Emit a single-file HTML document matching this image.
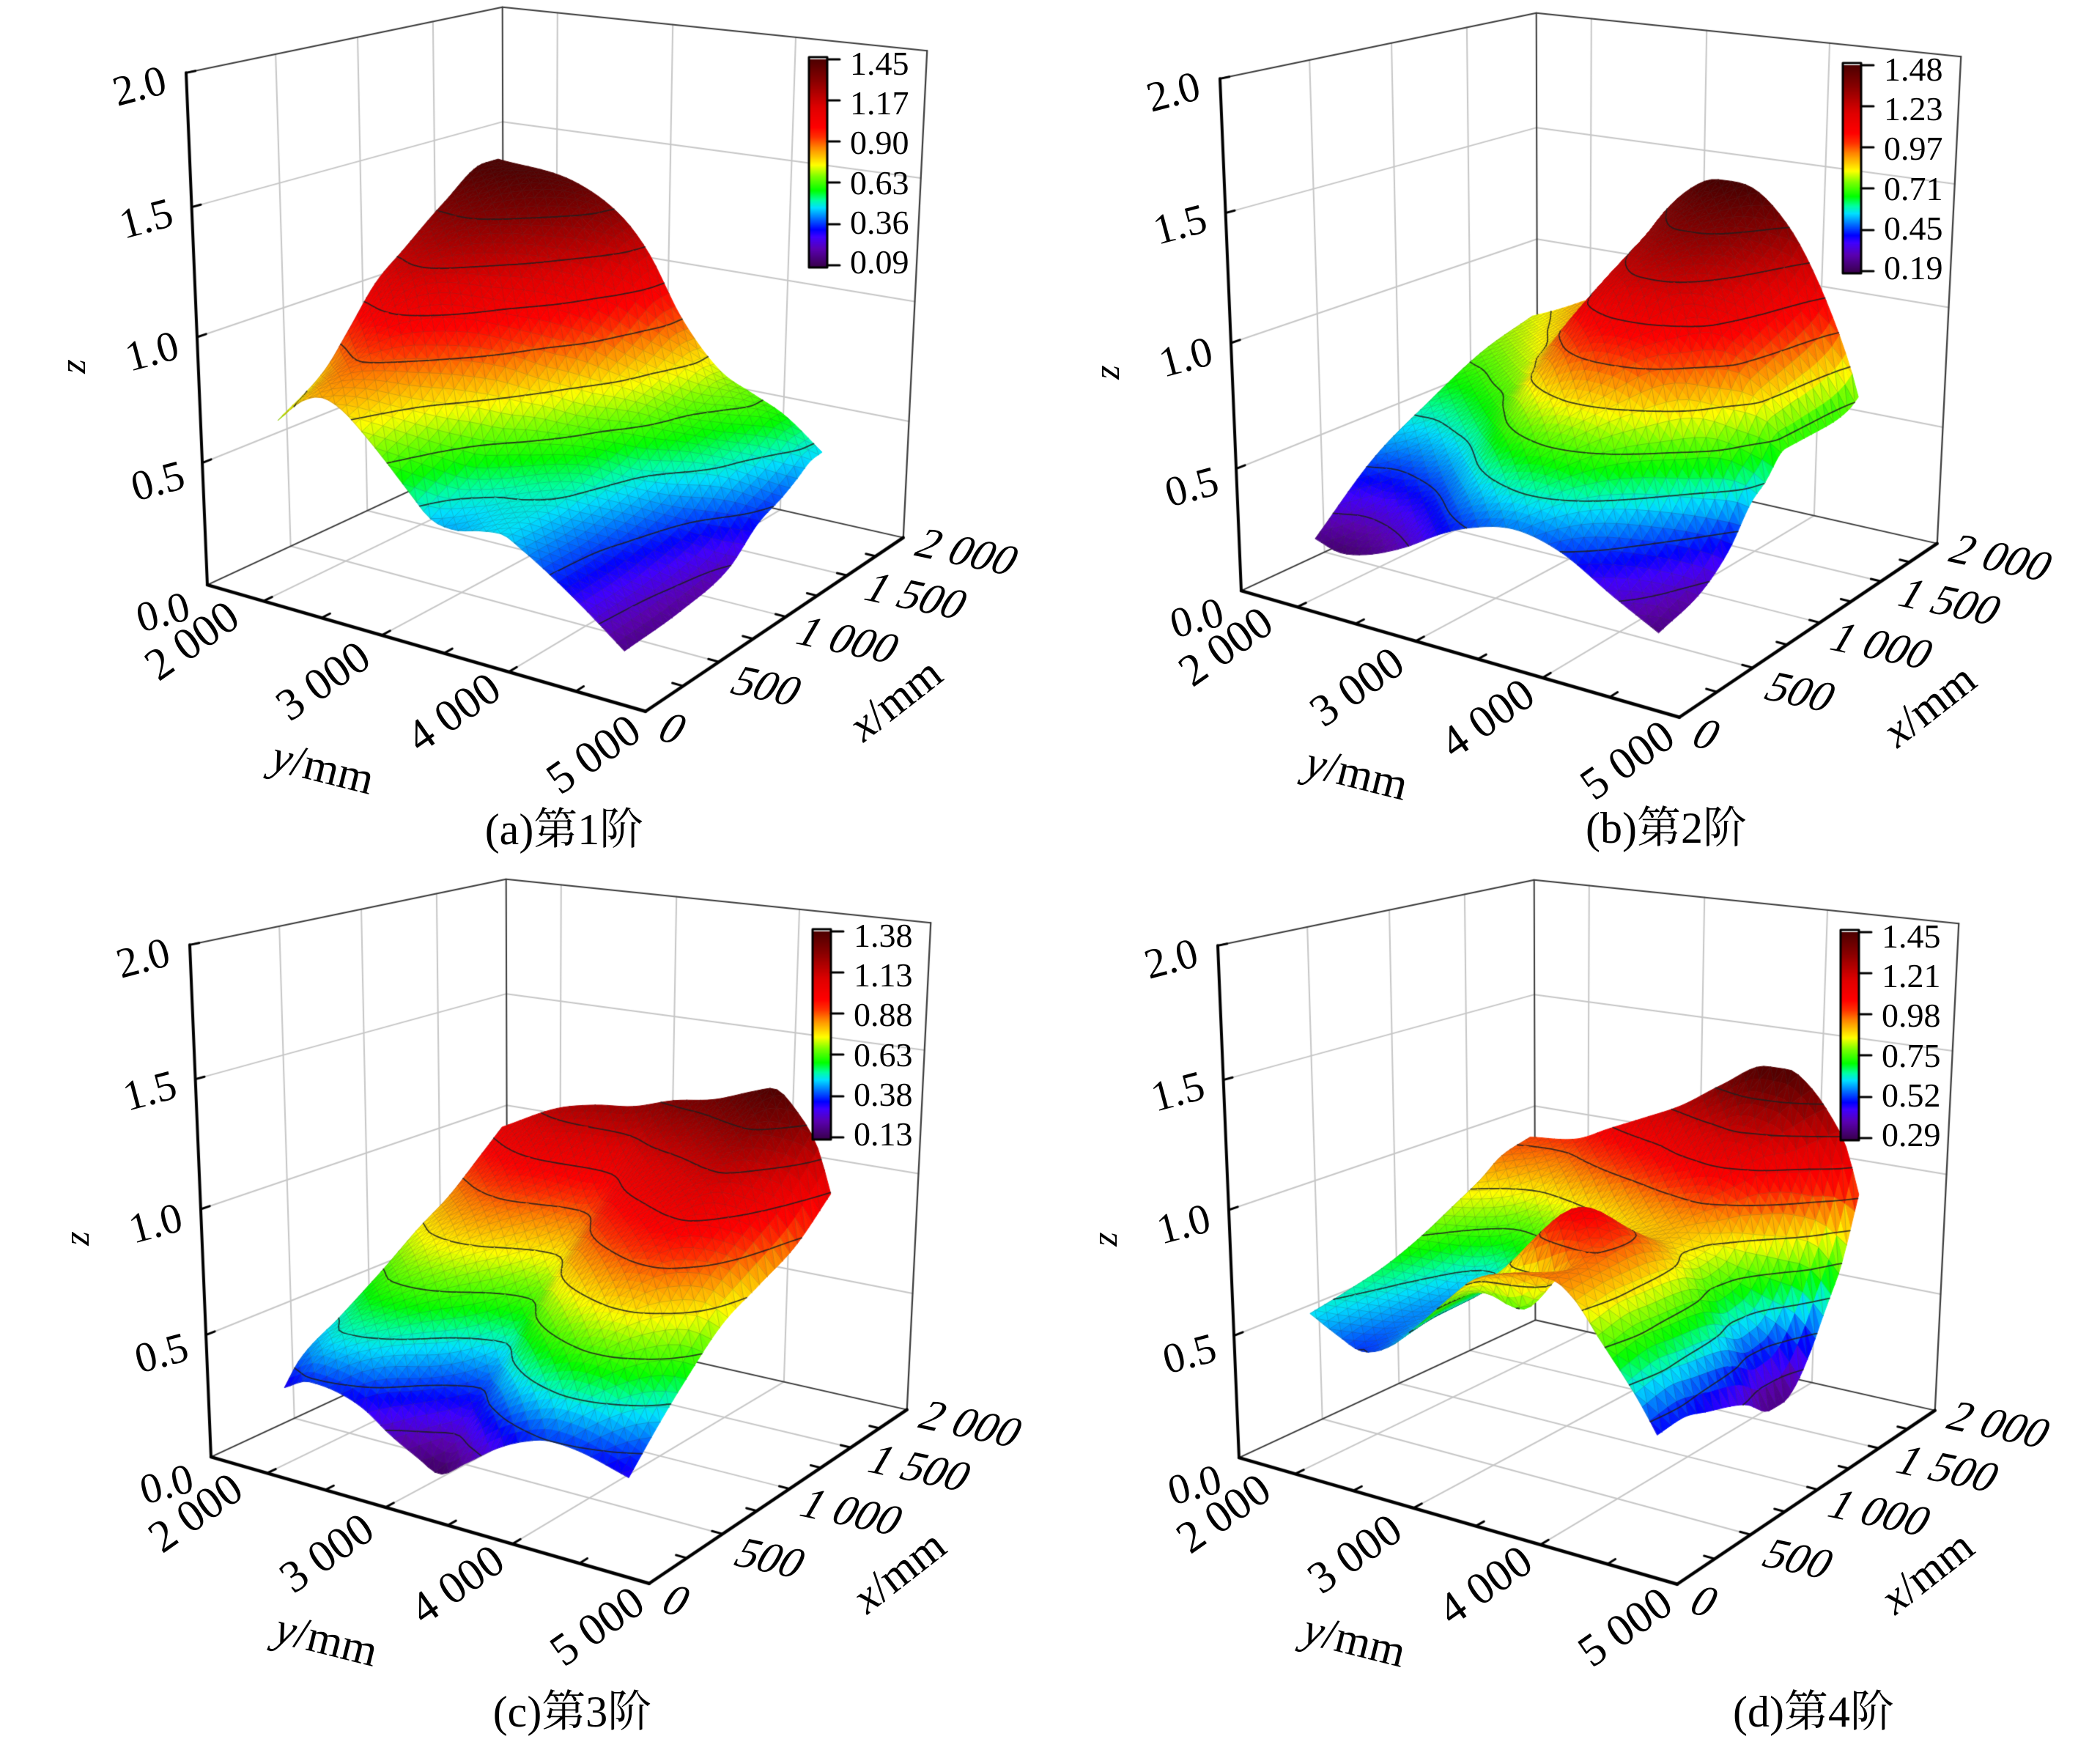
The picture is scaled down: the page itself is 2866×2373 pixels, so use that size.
<!DOCTYPE html>
<html><head><meta charset="utf-8">
<style>
html,body{margin:0;padding:0;background:#fff;}
#wrap{position:relative;width:2866px;height:2373px;overflow:hidden;background:#fff;}
#cv,#ov{position:absolute;left:0;top:0;}
text{font-family:"Liberation Serif","Noto Serif CJK SC",serif;fill:#000;}
</style></head><body>
<div id="wrap">
<canvas id="cv" width="2866" height="2373"></canvas>
<svg id="ov" width="2866" height="2373" viewBox="0 0 2866 2373" xmlns="http://www.w3.org/2000/svg">
<!-- Panel a -->
<g transform="translate(0,0)">
 <g font-size="58" text-anchor="middle">
  <text transform="translate(190,116) rotate(-15)" dy="0.35em">2.0</text>
  <text transform="translate(199,297) rotate(-15)" dy="0.35em">1.5</text>
  <text transform="translate(207,478) rotate(-15)" dy="0.35em">1.0</text>
  <text transform="translate(215,655) rotate(-15)" dy="0.35em">0.5</text>
  <text transform="translate(222,834) rotate(-15)" dy="0.35em">0.0</text>
 </g>
 <text transform="translate(101,500) rotate(-90)" font-size="50" font-style="italic" text-anchor="middle" dy="0.3em">z</text>
 <g font-size="62" text-anchor="middle">
  <text transform="translate(261,873) rotate(-35)" dy="0.35em">2 000</text>
  <text transform="translate(440,928) rotate(-35)" dy="0.35em">3 000</text>
  <text transform="translate(618,971) rotate(-35)" dy="0.35em">4 000</text>
  <text transform="translate(809,1028) rotate(-35)" dy="0.35em">5 000</text>
 </g>
 <g font-size="60" text-anchor="middle">
  <text transform="translate(919,993) rotate(12) skewX(-18)" dy="0.35em">0</text>
  <text transform="translate(1047,935) rotate(12) skewX(-18)" dy="0.35em">500</text>
  <text transform="translate(1158,872) rotate(12) skewX(-18)" dy="0.35em">1 000</text>
  <text transform="translate(1251,812) rotate(12) skewX(-18)" dy="0.35em">1 500</text>
  <text transform="translate(1321,752) rotate(12) skewX(-18)" dy="0.35em">2 000</text>
 </g>
 <text transform="translate(441,1046) rotate(14)" font-size="62" text-anchor="middle" dy="0.35em"><tspan font-style="italic">y</tspan>/mm</text>
 <text transform="translate(1221,953) rotate(-38)" font-size="62" text-anchor="middle" dy="0.35em"><tspan font-style="italic">x</tspan>/mm</text>
 <g font-size="46">
  <text x="1160" y="102">1.45</text><text x="1160" y="156">1.17</text><text x="1160" y="210">0.90</text>
  <text x="1160" y="265">0.63</text><text x="1160" y="319">0.36</text><text x="1160" y="373">0.09</text>
 </g>
</g>
<!-- Panel b -->
<g transform="translate(1411,8)">
 <g font-size="58" text-anchor="middle">
  <text transform="translate(190,116) rotate(-15)" dy="0.35em">2.0</text>
  <text transform="translate(199,297) rotate(-15)" dy="0.35em">1.5</text>
  <text transform="translate(207,478) rotate(-15)" dy="0.35em">1.0</text>
  <text transform="translate(215,655) rotate(-15)" dy="0.35em">0.5</text>
  <text transform="translate(222,834) rotate(-15)" dy="0.35em">0.0</text>
 </g>
 <text transform="translate(101,500) rotate(-90)" font-size="50" font-style="italic" text-anchor="middle" dy="0.3em">z</text>
 <g font-size="62" text-anchor="middle">
  <text transform="translate(261,873) rotate(-35)" dy="0.35em">2 000</text>
  <text transform="translate(440,928) rotate(-35)" dy="0.35em">3 000</text>
  <text transform="translate(618,971) rotate(-35)" dy="0.35em">4 000</text>
  <text transform="translate(809,1028) rotate(-35)" dy="0.35em">5 000</text>
 </g>
 <g font-size="60" text-anchor="middle">
  <text transform="translate(919,993) rotate(12) skewX(-18)" dy="0.35em">0</text>
  <text transform="translate(1047,935) rotate(12) skewX(-18)" dy="0.35em">500</text>
  <text transform="translate(1158,872) rotate(12) skewX(-18)" dy="0.35em">1 000</text>
  <text transform="translate(1251,812) rotate(12) skewX(-18)" dy="0.35em">1 500</text>
  <text transform="translate(1321,752) rotate(12) skewX(-18)" dy="0.35em">2 000</text>
 </g>
 <text transform="translate(441,1046) rotate(14)" font-size="62" text-anchor="middle" dy="0.35em"><tspan font-style="italic">y</tspan>/mm</text>
 <text transform="translate(1221,953) rotate(-38)" font-size="62" text-anchor="middle" dy="0.35em"><tspan font-style="italic">x</tspan>/mm</text>
 <g font-size="46">
  <text x="1160" y="102">1.48</text><text x="1160" y="156">1.23</text><text x="1160" y="210">0.97</text>
  <text x="1160" y="265">0.71</text><text x="1160" y="319">0.45</text><text x="1160" y="373">0.19</text>
 </g>
</g>
<!-- Panel c -->
<g transform="translate(5,1190)">
 <g font-size="58" text-anchor="middle">
  <text transform="translate(190,116) rotate(-15)" dy="0.35em">2.0</text>
  <text transform="translate(199,297) rotate(-15)" dy="0.35em">1.5</text>
  <text transform="translate(207,478) rotate(-15)" dy="0.35em">1.0</text>
  <text transform="translate(215,655) rotate(-15)" dy="0.35em">0.5</text>
  <text transform="translate(222,834) rotate(-15)" dy="0.35em">0.0</text>
 </g>
 <text transform="translate(101,500) rotate(-90)" font-size="50" font-style="italic" text-anchor="middle" dy="0.3em">z</text>
 <g font-size="62" text-anchor="middle">
  <text transform="translate(261,873) rotate(-35)" dy="0.35em">2 000</text>
  <text transform="translate(440,928) rotate(-35)" dy="0.35em">3 000</text>
  <text transform="translate(618,971) rotate(-35)" dy="0.35em">4 000</text>
  <text transform="translate(809,1028) rotate(-35)" dy="0.35em">5 000</text>
 </g>
 <g font-size="60" text-anchor="middle">
  <text transform="translate(919,993) rotate(12) skewX(-18)" dy="0.35em">0</text>
  <text transform="translate(1047,935) rotate(12) skewX(-18)" dy="0.35em">500</text>
  <text transform="translate(1158,872) rotate(12) skewX(-18)" dy="0.35em">1 000</text>
  <text transform="translate(1251,812) rotate(12) skewX(-18)" dy="0.35em">1 500</text>
  <text transform="translate(1321,752) rotate(12) skewX(-18)" dy="0.35em">2 000</text>
 </g>
 <text transform="translate(441,1046) rotate(14)" font-size="62" text-anchor="middle" dy="0.35em"><tspan font-style="italic">y</tspan>/mm</text>
 <text transform="translate(1221,953) rotate(-38)" font-size="62" text-anchor="middle" dy="0.35em"><tspan font-style="italic">x</tspan>/mm</text>
 <g font-size="46">
  <text x="1160" y="102">1.38</text><text x="1160" y="156">1.13</text><text x="1160" y="210">0.88</text>
  <text x="1160" y="265">0.63</text><text x="1160" y="319">0.38</text><text x="1160" y="373">0.13</text>
 </g>
</g>
<!-- Panel d -->
<g transform="translate(1408,1191)">
 <g font-size="58" text-anchor="middle">
  <text transform="translate(190,116) rotate(-15)" dy="0.35em">2.0</text>
  <text transform="translate(199,297) rotate(-15)" dy="0.35em">1.5</text>
  <text transform="translate(207,478) rotate(-15)" dy="0.35em">1.0</text>
  <text transform="translate(215,655) rotate(-15)" dy="0.35em">0.5</text>
  <text transform="translate(222,834) rotate(-15)" dy="0.35em">0.0</text>
 </g>
 <text transform="translate(101,500) rotate(-90)" font-size="50" font-style="italic" text-anchor="middle" dy="0.3em">z</text>
 <g font-size="62" text-anchor="middle">
  <text transform="translate(261,873) rotate(-35)" dy="0.35em">2 000</text>
  <text transform="translate(440,928) rotate(-35)" dy="0.35em">3 000</text>
  <text transform="translate(618,971) rotate(-35)" dy="0.35em">4 000</text>
  <text transform="translate(809,1028) rotate(-35)" dy="0.35em">5 000</text>
 </g>
 <g font-size="60" text-anchor="middle">
  <text transform="translate(919,993) rotate(12) skewX(-18)" dy="0.35em">0</text>
  <text transform="translate(1047,935) rotate(12) skewX(-18)" dy="0.35em">500</text>
  <text transform="translate(1158,872) rotate(12) skewX(-18)" dy="0.35em">1 000</text>
  <text transform="translate(1251,812) rotate(12) skewX(-18)" dy="0.35em">1 500</text>
  <text transform="translate(1321,752) rotate(12) skewX(-18)" dy="0.35em">2 000</text>
 </g>
 <text transform="translate(441,1046) rotate(14)" font-size="62" text-anchor="middle" dy="0.35em"><tspan font-style="italic">y</tspan>/mm</text>
 <text transform="translate(1221,953) rotate(-38)" font-size="62" text-anchor="middle" dy="0.35em"><tspan font-style="italic">x</tspan>/mm</text>
 <g font-size="46">
  <text x="1160" y="102">1.45</text><text x="1160" y="156">1.21</text><text x="1160" y="210">0.98</text>
  <text x="1160" y="265">0.75</text><text x="1160" y="319">0.52</text><text x="1160" y="373">0.29</text>
 </g>
</g>
<!-- Titles -->
<g font-size="60" text-anchor="middle">
 <text x="770" y="1152">(a)第1阶</text>
 <text x="2274" y="1150">(b)第2阶</text>
 <text x="781" y="2356">(c)第3阶</text>
 <text x="2475" y="2356">(d)第4阶</text>
</g>
</svg>
</div>
<script>
(function(){
var cv=document.getElementById('cv'),ctx=cv.getContext('2d');
var PTS=[[0,0,0,282,798],[0,1,0,879,974],[1,1,0,1235,733],[1,0,0,686,612],[0,0,1,253,100],[1,0,1,687,10],[1,1,1,1265,69],
[.25,1,0,980,903],[.5,1,0,1071,841],[.75,1,0,1155,784],[0,1/7,0,362,820],[0,3/7,0,521,867],[0,5/7,0,699,917],[0,0,.25,275,629]];
var N=11,M=[],i,j,k;
for(i=0;i<N;i++){M.push([]);for(j=0;j<=N;j++)M[i].push(0);}
function add(r,b){for(var a=0;a<N;a++){for(var c=0;c<N;c++)M[a][c]+=r[a]*r[c];M[a][N]+=r[a]*b;}}
PTS.forEach(function(p){var X=p[0],Y=p[1],Z=p[2],u=p[3],v=p[4];
 add([X,Y,Z,1,0,0,0,0,-u*X,-u*Y,-u*Z],u);add([0,0,0,0,X,Y,Z,1,-v*X,-v*Y,-v*Z],v);});
for(var c=0;c<N;c++){var pv=c;for(var r=c+1;r<N;r++)if(Math.abs(M[r][c])>Math.abs(M[pv][c]))pv=r;
 var tmp=M[c];M[c]=M[pv];M[pv]=tmp;
 for(r=0;r<N;r++){if(r===c)continue;var f=M[r][c]/M[c][c];if(f===0)continue;for(k=c;k<=N;k++)M[r][k]-=f*M[c][k];}}
var P=[];for(i=0;i<N;i++)P.push(M[i][N]/M[i][i]);
function pr(X,Y,Z){var w=P[8]*X+P[9]*Y+P[10]*Z+1;return[(P[0]*X+P[1]*Y+P[2]*Z+P[3])/w,(P[4]*X+P[5]*Y+P[6]*Z+P[7])/w,w];}
var CM=[[0,0x38,0x00,0x48],[.087,0x5a,0x00,0xb0],[.145,0x40,0x00,0xff],[.18,0,0,0xff],[.226,0,0x60,0xff],[.284,0,0xe0,0xff],
[.32,0,0xff,0xa0],[.365,0,0xff,0],[.435,0x80,0xff,0],[.487,0xff,0xff,0],[.53,0xff,0xc0,0],[.574,0xff,0x80,0],[.62,0xff,0x30,0],
[.667,0xff,0,0],[.76,0xe0,0,0],[.83,0xb0,0,0],[.9,0x80,0,0],[1,0x48,0,0]];
function cmap(t){if(t<0)t=0;if(t>1)t=1;for(var q=1;q<CM.length;q++){if(t<=CM[q][0]){var a=CM[q-1],b=CM[q],g=(t-a[0])/(b[0]-a[0]);
 return 'rgb('+Math.round(a[1]+g*(b[1]-a[1]))+','+Math.round(a[2]+g*(b[2]-a[2]))+','+Math.round(a[3]+g*(b[3]-a[3]))+')';}}return 'rgb(72,0,0)';}
function I(pts){var n=pts.length,xs=pts.map(function(p){return p[0];}),ys=pts.map(function(p){return p[1];}),m=[];
 for(var q=0;q<n;q++){if(q===0)m.push((ys[1]-ys[0])/(xs[1]-xs[0]));else if(q===n-1)m.push((ys[n-1]-ys[n-2])/(xs[n-1]-xs[n-2]));
  else{var d0=(ys[q]-ys[q-1])/(xs[q]-xs[q-1]),d1=(ys[q+1]-ys[q])/(xs[q+1]-xs[q]);m.push(d0*d1<=0?0:(d0+d1)/2);}}
 return function(x){if(x<=xs[0])return ys[0];if(x>=xs[n-1])return ys[n-1];var q=0;while(x>xs[q+1])q++;
  var h=xs[q+1]-xs[q],t=(x-xs[q])/h,t2=t*t,t3=t2*t;
  return (2*t3-3*t2+1)*ys[q]+(t3-2*t2+t)*h*m[q]+(-2*t3+3*t2)*ys[q+1]+(t3-t2)*h*m[q+1];};}
function coons(E0,E1,F0,F1,ex){var z00=(E0(0)+F0(0))/2,z10=(E1(0)+F0(1))/2,z01=(E0(1)+F1(0))/2,z11=(E1(1)+F1(1))/2;
 return function(s,t){return (1-s)*E0(t)+s*E1(t)+(1-t)*F0(s)+t*F1(s)-((1-s)*(1-t)*z00+s*(1-t)*z10+(1-s)*t*z01+s*t*z11)+(ex?ex(s,t):0);};}
function G(x,m,w){var d=(x-m)/w;return Math.exp(-d*d);}
var PANELS=[
{ox:0,oy:0,zlo:.09,zhi:1.45,f:coons(
 I([[0,.70],[.08,.80],[.14,.83],[.2,.8],[.27,.72],[.33,.64],[.4,.54],[.46,.46],[.53,.44],[.6,.46],[.66,.47],[.72,.43],[.8,.36],[.9,.26],[1,.15]]),
 I([[0,1.45],[.25,1.4],[.4,1.28],[.48,1.15],[.58,.91],[.7,.72],[.8,.65],[.89,.59],[1,.47]]),
 I([[0,.70],[.2,.83],[.3,.95],[.42,1.1],[.55,1.2],[.74,1.34],[.93,1.45],[1,1.45]]),
 I([[0,.15],[.27,.17],[.5,.22],[.65,.33],[.78,.38],[.86,.42],[.93,.46],[1,.47]]))},
{ox:1411,oy:8,zlo:.19,zhi:1.48,f:coons(
 I([[0,.25],[.08,.22],[.16,.24],[.28,.31],[.39,.4],[.47,.45],[.6,.49],[.73,.45],[.88,.33],[1,.24]]),
 I([[0,.8],[.07,.84],[.16,.9],[.25,.97],[.31,1.08],[.4,1.3],[.5,1.45],[.58,1.5],[.69,1.48],[.79,1.35],[.85,1.22],[.93,.99],[.98,.81],[1,.72]]),
 I([[0,.25],[.25,.47],[.5,.61],[.75,.73],[1,.8]]),
 I([[0,.24],[.2,.3],[.33,.4],[.43,.53],[.5,.58],[.6,.67],[.76,.67],[.95,.69],[1,.72]]))},
{ox:5,oy:1190,zlo:.13,zhi:1.38,f:coons(
 I([[0,.32],[.08,.37],[.16,.36],[.245,.32],[.33,.24],[.41,.18],[.47,.14],[.55,.21],[.64,.3],[.71,.35],[.79,.38],[.87,.37],[1,.32]]),
 I([[0,1.04],[.18,1.16],[.3,1.2],[.42,1.22],[.54,1.27],[.66,1.3],[.78,1.36],[.83,1.38],[.9,1.3],[.96,1.17],[1,1.0]]),
 I([[0,.32],[.06,.4],[.24,.51],[.43,.63],[.59,.74],[.74,.83],[.89,.95],[1,1.04]]),
 I([[0,.32],[.14,.46],[.24,.55],[.43,.7],[.62,.78],[.81,.86],[1,1.0]]),
 function(s,t){return 0.15*4*s*(1-s)*(1/(1+Math.exp(-(t-.5)/.035))-t);})},
{ox:1408,oy:1191,zlo:.29,zhi:1.45,f:coons(
 I([[0,.62],[.085,.56],[.16,.52],[.24,.56],[.33,.67],[.43,.81],[.5,.9],[.6,.95],[.71,.96],[.78,.9],[.84,.79],[.95,.59],[1,.48]]),
 I([[0,1.0],[.16,1.03],[.25,1.09],[.36,1.16],[.48,1.24],[.6,1.35],[.73,1.45],[.79,1.45],[.85,1.4],[.91,1.3],[.96,1.18],[1,1.0]]),
 I([[0,.62],[.15,.65],[.3,.69],[.45,.75],[.6,.82],[.76,.9],[.85,.96],[1,1.0]]),
 I([[0,.48],[.11,.49],[.23,.46],[.42,.4],[.55,.32],[.61,.32],[.68,.36],[.76,.47],[.82,.58],[.86,.65],[.91,.74],[1,1.0]]),
 function(s,t){return 0.15*G(s,.3,.12)*G(t,.6,.12)-0.2*G(s,.12,.06)*G(t,.56,.1)-0.06*G(s,.45,.2)*G(t,.2,.15);})}
];
ctx.lineCap='round';ctx.lineJoin='round';
PANELS.forEach(function(pn){
 var ox=pn.ox,oy=pn.oy;
 function L3(a,b,col,lw){var p=pr(a[0],a[1],a[2]),q=pr(b[0],b[1],b[2]);ctx.strokeStyle=col;ctx.lineWidth=lw;ctx.beginPath();
  ctx.moveTo(p[0]+ox,p[1]+oy);ctx.lineTo(q[0]+ox,q[1]+oy);ctx.stroke();}
 var GC='#c6c6c6';
 [.25,.5,.75].forEach(function(X){L3([X,0,0],[X,1,0],GC,2);L3([X,0,0],[X,0,1],GC,2);});
 [1/7,3/7,5/7].forEach(function(Y){L3([0,Y,0],[1,Y,0],GC,2);L3([1,Y,0],[1,Y,1],GC,2);});
 [.25,.5,.75].forEach(function(Z){L3([0,0,Z],[1,0,Z],GC,2);L3([1,0,Z],[1,1,Z],GC,2);});
 var D='#3a3a3a';
 L3([0,0,1],[1,0,1],D,2);L3([1,0,1],[1,1,1],D,2);L3([1,0,0],[1,0,1],D,2);L3([1,1,0],[1,1,1],D,2.2);
 L3([0,0,0],[1,0,0],D,2);L3([1,0,0],[1,1,0],D,2);
 var NS=50,X0=.05,X1=.77,Y0=.15,Y1=.925,g=[],ii,jj;
 for(ii=0;ii<=NS;ii++){var row=[];for(jj=0;jj<=NS;jj++){var s=ii/NS,t=jj/NS,z=pn.f(s,t);var p=pr(X0+s*(X1-X0),Y0+t*(Y1-Y0),z/2);
  row.push([p[0]+ox,p[1]+oy,p[2],z]);}g.push(row);}
 var quads=[];
 for(ii=0;ii<NS;ii++)for(jj=0;jj<NS;jj++){var a=g[ii][jj],b=g[ii+1][jj],cc=g[ii+1][jj+1],d=g[ii][jj+1];
  quads.push({dp:(a[2]+b[2]+cc[2]+d[2])/4,q:[a,b,cc,d],o:(ii+jj)%2});}
 quads.sort(function(u,v){return v.dp-u.dp;});
 var rng=pn.zhi-pn.zlo,zb0=pn.zlo-rng*3/281,zb1=pn.zhi+rng*3/281;
 var levels=[];for(k=1;k<=9;k++)levels.push(pn.zlo+k*rng/10);
 quads.forEach(function(Q){var a=Q.q[0],b=Q.q[1],cc=Q.q[2],d=Q.q[3];
  var tris=Q.o?[[a,b,cc],[a,cc,d]]:[[a,b,d],[b,cc,d]];
  tris.forEach(function(tr){var zm=(tr[0][3]+tr[1][3]+tr[2][3])/3;var col=cmap((zm-zb0)/(zb1-zb0));
   ctx.fillStyle=col;ctx.strokeStyle=col;ctx.lineWidth=1;ctx.beginPath();ctx.moveTo(tr[0][0],tr[0][1]);ctx.lineTo(tr[1][0],tr[1][1]);
   ctx.lineTo(tr[2][0],tr[2][1]);ctx.closePath();ctx.fill();ctx.stroke();});
  ctx.strokeStyle='rgba(60,60,60,0.27)';ctx.lineWidth=0.9;ctx.beginPath();
  ctx.moveTo(d[0],d[1]);ctx.lineTo(a[0],a[1]);ctx.lineTo(b[0],b[1]);
  if(Q.o){ctx.moveTo(a[0],a[1]);ctx.lineTo(cc[0],cc[1]);}else{ctx.moveTo(b[0],b[1]);ctx.lineTo(d[0],d[1]);}
  ctx.stroke();
  ctx.strokeStyle='rgba(30,30,30,0.85)';ctx.lineWidth=1.8;ctx.beginPath();
  var E=[[a,b],[b,cc],[cc,d],[d,a]];
  levels.forEach(function(lv){var pts=[];E.forEach(function(e){var p=e[0],q=e[1];if((p[3]-lv)*(q[3]-lv)<0){var f=(lv-p[3])/(q[3]-p[3]);
    pts.push([p[0]+f*(q[0]-p[0]),p[1]+f*(q[1]-p[1])]);}});
   if(pts.length>=2){ctx.moveTo(pts[0][0],pts[0][1]);ctx.lineTo(pts[1][0],pts[1][1]);}
   if(pts.length===4){ctx.moveTo(pts[2][0],pts[2][1]);ctx.lineTo(pts[3][0],pts[3][1]);}});
  ctx.stroke();});
 var K='#000';
 L3([0,0,0],[0,0,1],K,4);L3([0,0,0],[0,1,0],K,4.5);L3([0,1,0],[1,1,0],K,4.5);
 for(k=1;k<7;k++)L3([0,k/7,0],[0.025,k/7,0],K,3);
 for(k=1;k<8;k++)L3([k/8,1,0],[k/8,0.978,0],K,3);
 for(k=1;k<=4;k++)L3([0,0,k/4],[0.025,0,k/4],K,3);
 var cx0=1104+ox,cy0=78+oy,cw=25,ch=287;
 for(var y=0;y<ch;y++){ctx.fillStyle=cmap(1-(y+0.5)/ch);ctx.fillRect(cx0,cy0+y,cw,1.3);}
 ctx.fillStyle='#fff';ctx.fillRect(cx0,cy0,cw,3);
 ctx.strokeStyle='#000';ctx.lineWidth=3;ctx.strokeRect(cx0,cy0,cw,ch);
 [81,137,193,249,306,362].forEach(function(ty){ctx.beginPath();ctx.moveTo(cx0+cw,ty+oy);ctx.lineTo(cx0+cw+17,ty+oy);ctx.stroke();});
});
})();
</script>
</body></html>
